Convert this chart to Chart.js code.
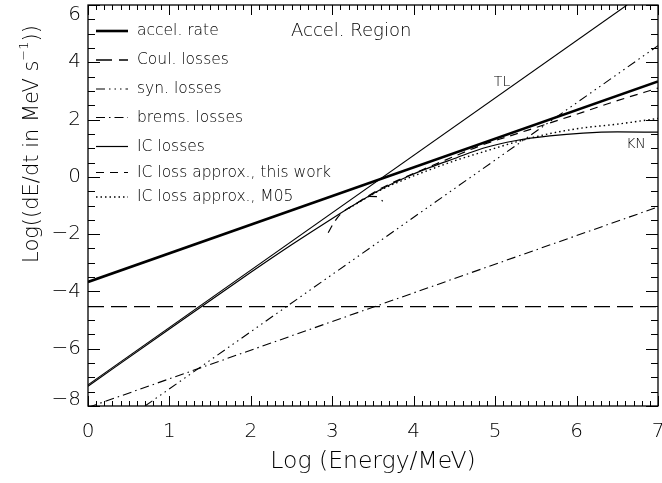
<!DOCTYPE html>
<html>
<head>
<meta charset="utf-8">
<script src="https://cdn.jsdelivr.net/npm/chart.js@4.4.1/dist/chart.umd.min.js"></script>
<style>
  html, body { margin: 0; padding: 0; background: #fff; }
</style>
</head>
<body>
<canvas id="lossChart" width="662" height="483"></canvas>
<script>
// log10(E / MeV) against log10(dE/dt in MeV/s)
const accelX = [0, 7];
const accelY = [-3.67, 3.33];

const coulX = [0, 7];
const coulY = [-4.53, -4.53];

const synX = [0.7, 7];
const synY = [-8, 4.58];

const bremsX = [0, 7];
const bremsY = [-8.05, -1.05];

const tlX = [0, 6.62];
const tlY = [-7.26, 6];

const icX = [0, 1, 2, 2.5, 3, 3.3, 3.6, 3.9, 4.2, 4.5, 4.85, 5.26, 5.67, 6.08, 6.5, 7];
const icY = [-7.31, -5.31, -3.33, -2.37, -1.45, -0.92, -0.43, -0.02, 0.33, 0.64, 1.0, 1.27, 1.43, 1.53, 1.57, 1.56];

const approxX = [2.95, 3.02, 3.1, 3.3, 3.6, 3.9, 4.2, 4.5, 4.85, 5.26, 5.67, 6.08, 6.5, 7];
const approxY = [-1.95, -1.6, -1.3, -0.92, -0.4, 0.0, 0.36, 0.72, 1.12, 1.5, 1.88, 2.26, 2.66, 3.1];

const m05X = [3.2, 3.6, 3.9, 4.2, 4.5, 4.85, 5.26, 5.67, 6.08, 6.5, 7];
const m05Y = [-1.1, -0.45, -0.08, 0.25, 0.56, 0.87, 1.22, 1.51, 1.71, 1.84, 2.04];
const m05LowX = [3.45, 3.55, 3.65];
const m05LowY = [-0.68, -0.69, -0.92];

const xTicks = [0, 1, 2, 3, 4, 5, 6, 7];
const yTicks = [-8, -6, -4, -2, 0, 2, 4, 6];

const legendLabels = ['accel. rate', 'Coul. losses', 'syn. losses', 'brems. losses',
  'IC losses', 'IC loss approx., this work', 'IC loss approx., M05'];

const FONT = '"DejaVu Sans", "Liberation Sans", sans-serif';
const W = '200 ';

function pts(xs, ys) {
  return xs.map((x, i) => ({ x: x, y: ys[i] }));
}

function series(xs, ys, width, dash, smooth) {
  return {
    data: pts(xs, ys),
    borderColor: '#000',
    borderWidth: width,
    borderDash: dash,
    pointRadius: 0,
    fill: false,
    cubicInterpolationMode: smooth ? 'monotone' : 'default',
    tension: smooth ? 0.4 : 0
  };
}

const datasets = [
  series(accelX, accelY, 2.6, [], false),
  series(coulX, coulY, 1.3, [16, 7], false),
  series(synX, synY, 1.1, [9, 4, 1.5, 4, 1.5, 4, 1.5, 4], false),
  series(bremsX, bremsY, 1.1, [9, 4, 1.5, 4], false),
  series(icX, icY, 1.2, [], true),
  series(approxX, approxY, 1.2, [8, 6], true),
  series(m05X, m05Y, 1.4, [1.5, 3], true),
  series(tlX, tlY, 1.1, [], false),
  series(m05LowX, m05LowY, 1.1, [8, 6, 1.5, 6], false)
];

// frame, inward ticks, labels, legend and notes
const decor = {
  id: 'decor',
  afterDatasetsDraw(chart) {
    const { ctx, chartArea: a, scales: { x, y } } = chart;
    ctx.save();
    ctx.strokeStyle = '#000';
    ctx.fillStyle = '#000';
    ctx.setLineDash([]);
    ctx.lineWidth = 1.3;
    ctx.strokeRect(a.left, a.top, a.right - a.left, a.bottom - a.top);

    ctx.lineWidth = 1;
    ctx.beginPath();
    for (let i = 0; i <= 70; i++) {
      const v = i / 10;
      const px = Math.round(x.getPixelForValue(v)) + 0.5;
      const len = i % 10 === 0 ? 10 : 5;
      ctx.moveTo(px, a.bottom); ctx.lineTo(px, a.bottom - len);
      ctx.moveTo(px, a.top); ctx.lineTo(px, a.top + len);
    }
    for (let i = 0; i <= 28; i++) {
      const v = -8 + i * 0.5;
      const py = Math.round(y.getPixelForValue(v)) + 0.5;
      const len = i % 4 === 0 ? 12 : 7;
      ctx.moveTo(a.left, py); ctx.lineTo(a.left + len, py);
      ctx.moveTo(a.right, py); ctx.lineTo(a.right - len, py);
    }
    ctx.stroke();

    ctx.font = W + '20px ' + FONT;
    ctx.textAlign = 'center';
    ctx.textBaseline = 'middle';
    xTicks.forEach(v => ctx.fillText(String(v), x.getPixelForValue(v), 432));
    ctx.textAlign = 'right';
    yTicks.forEach(v => {
      let py = y.getPixelForValue(v);
      py = Math.min(Math.max(py, a.top + 10), a.bottom - 6);
      ctx.fillText(String(v).replace('-', '\u2212'), 81, py);
    });

    ctx.font = W + '23.5px ' + FONT;
    ctx.textAlign = 'center';
    ctx.fillText('Log (Energy/MeV)', (a.left + a.right) / 2, 462);

    // rotated y title with superscript
    ctx.save();
    ctx.translate(33, 144);
    ctx.rotate(-Math.PI / 2);
    const t1 = 'Log((dE/dt in MeV s', sup = '\u22121', t2 = '))';
    ctx.font = W + '21px ' + FONT;
    const w1 = ctx.measureText(t1).width, w3 = ctx.measureText(t2).width;
    ctx.font = W + '13px ' + FONT;
    const w2 = ctx.measureText(sup).width;
    const start = -(w1 + w2 + w3) / 2;
    ctx.textAlign = 'left';
    ctx.font = W + '21px ' + FONT;
    ctx.fillText(t1, start, 0);
    ctx.fillText(t2, start + w1 + w2, 0);
    ctx.font = W + '13px ' + FONT;
    ctx.fillText(sup, start + w1, -8);
    ctx.restore();

    // legend
    const rows = [31, 60, 89, 117.5, 146.5, 172.5, 197];
    ctx.font = W + '15.5px ' + FONT;
    ctx.textAlign = 'left';
    legendLabels.forEach((txt, i) => {
      const ds = chart.data.datasets[i];
      ctx.lineWidth = ds.borderWidth;
      ctx.setLineDash(ds.borderDash);
      ctx.beginPath();
      ctx.moveTo(96, rows[i]);
      ctx.lineTo(128, rows[i]);
      ctx.stroke();
      ctx.setLineDash([]);
      ctx.fillText(txt, 137, rows[i]);
    });

    ctx.font = W + '18px ' + FONT;
    ctx.fillText('Accel. Region', 291, 31);
    ctx.font = W + '14px ' + FONT;
    ctx.textAlign = 'center';
    ctx.fillText('TL', 502, 82);
    ctx.fillText('KN', 636, 144);
    ctx.restore();
  }
};

new Chart(document.getElementById('lossChart'), {
  type: 'line',
  data: { datasets: datasets },
  options: {
    responsive: false,
    animation: false,
    devicePixelRatio: 1,
    layout: { padding: { left: 88, right: 4, top: 5, bottom: 77 } },
    plugins: { legend: { display: false }, tooltip: { enabled: false } },
    scales: {
      x: { type: 'linear', min: 0, max: 7, display: false },
      y: { type: 'linear', min: -8, max: 6, display: false }
    }
  },
  plugins: [decor]
});
</script>
</body>
</html>
